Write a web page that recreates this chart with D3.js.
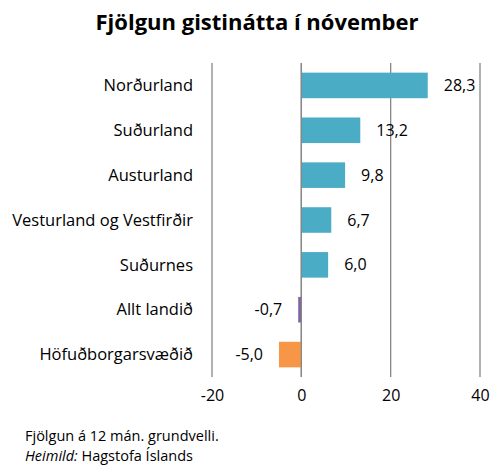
<!DOCTYPE html>
<html><head><meta charset="utf-8">
<script src="https://cdn.jsdelivr.net/npm/d3@7"></script>
<style>body{margin:0;background:#fff}svg{display:block}text{font-family:"Open Sans",sans-serif}</style>
</head><body><div id="chart"></div>
<script>
const categories = ["Norðurland","Suðurland","Austurland","Vesturland og Vestfirðir","Suðurnes","Allt landið","Höfuðborgarsvæðið"];
const values = [28.3, 13.2, 9.8, 6.7, 6.0, -0.7, -5.0];
const colors = ["#4BACC6","#4BACC6","#4BACC6","#4BACC6","#4BACC6","#8064A2","#F79646"];
const xTicks = [-20, 0, 20, 40];
const title = "Fjölgun gistinátta í nóvember";
const notes = ["Fjölgun á 12 mán. grundvelli.", "Hagstofa Íslands"];

const W = 501, H = 465;
const svg = d3.select("#chart").append("svg").attr("width", W).attr("height", H);
const x = d3.scaleLinear().domain([-20, 40]).range([212, 480]);
const y = d3.scaleBand().domain(categories).range([63, 377]).paddingInner(0.43).paddingOuter(0.215);

svg.append("text").attr("x", 257).attr("y", 30).attr("text-anchor", "middle")
  .attr("font-size", 22).attr("font-weight", "bold").attr("fill", "#000").text(title);

svg.append("g").selectAll("line").data(xTicks).join("line")
  .attr("x1", d => x(d)).attr("x2", d => x(d)).attr("y1", 63).attr("y2", 377)
  .attr("stroke", "#878787").attr("stroke-width", 1.3);

const fmt = v => d3.format(".1f")(v).replace(".", ",").replace("−", "-");
const ax = svg.append("g").attr("transform", "translate(0,377)")
  .call(d3.axisBottom(x).tickValues(xTicks).tickSize(0).tickPadding(13).tickFormat(d => String(d)));
ax.select(".domain").remove();
ax.selectAll("text").attr("font-size", 16).attr("fill", "#000").style("font-family", "Open Sans");

svg.append("g").selectAll("rect").data(values).join("rect")
  .attr("x", d => x(Math.min(0, d))).attr("width", d => Math.abs(x(d) - x(0)))
  .attr("y", (d, i) => y(categories[i])).attr("height", y.bandwidth())
  .attr("fill", (d, i) => colors[i]);

svg.append("line").attr("x1", x(0)).attr("x2", x(0)).attr("y1", 63).attr("y2", 377)
  .attr("stroke", "#878787").attr("stroke-width", 1.3);

svg.append("g").selectAll("text").data(values).join("text")
  .attr("x", d => d >= 0 ? x(d) + 16 : x(d) - 16)
  .attr("y", (d, i) => y(categories[i]) + y.bandwidth() / 2)
  .attr("dy", "0.35em").attr("text-anchor", d => d >= 0 ? "start" : "end")
  .attr("font-size", 16).attr("fill", "#000").text(fmt);

svg.append("g").selectAll("text").data(categories).join("text")
  .attr("x", 193).attr("y", d => y(d) + y.bandwidth() / 2).attr("dy", "0.35em")
  .attr("text-anchor", "end").attr("font-size", 16.5).attr("fill", "#000").text(d => d);

svg.append("text").attr("x", 25).attr("y", 441).attr("font-size", 14.5).attr("fill", "#000").text(notes[0]);
const t2 = svg.append("text").attr("x", 25).attr("y", 460.5).attr("font-size", 14.5).attr("fill", "#000");
t2.append("tspan").attr("font-style", "italic").text("Heimild:");
t2.append("tspan").text(" " + notes[1]);
</script></body></html>
